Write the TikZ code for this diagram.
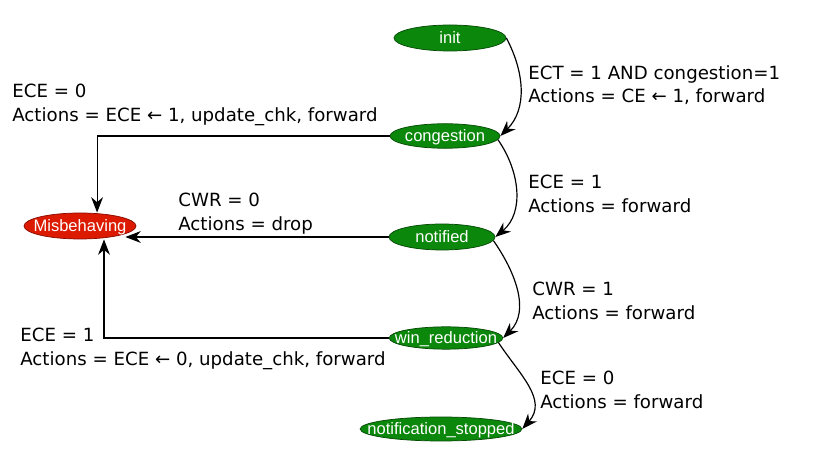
\documentclass[tikz,border=0pt]{standalone}
\usepackage{fontspec}
\setmainfont{DejaVu Sans}
\newfontfamily\statefont{Liberation Sans}
\usetikzlibrary{arrows.meta,positioning,calc,shapes.geometric}
\definecolor{StateGreen}{HTML}{0B870B}
\definecolor{StateGreenDark}{HTML}{064A06}
\definecolor{BadRed}{HTML}{DC1A00}
\definecolor{BadRedDark}{HTML}{8A0C00}
% state names take no room, so the ellipse keeps its given size
\newcommand{\stname}[1]{\makebox[0pt]{\raisebox{-0.36em}[0pt][0pt]{#1}}}
\tikzset{
    state/.style={
        ellipse, draw=StateGreenDark, fill=StateGreen, thin,
        text=white, font=\statefont\fontsize{9.1}{11}\selectfont,
        inner sep=0pt
    },
    badstate/.style={
        state, draw=BadRedDark, fill=BadRed
    },
    trans/.style={
        -{Stealth[length=8.5pt,width=6.5pt]}, line width=0.65pt, color=black
    },
    guard/.style={
        anchor=north west, align=left, inner sep=0pt,
        font=\fontsize{10}{12.8}\selectfont
    },
}
\begin{document}
\begin{tikzpicture}[x=0.55pt, y=-0.55pt]
    \useasboundingbox (0,0) rectangle (823,461);

    % States
    \node[state, minimum width=61.6pt, minimum height=14.3pt] (init) at (450,38) {\stname{init}};
    \node[state, minimum width=60.5pt, minimum height=13.5pt] (congestion) at (445,136) {\stname{congestion}};
    \node[state, minimum width=58.3pt, minimum height=14.3pt] (notified) at (442,237) {\stname{notified}};
    \node[state, minimum width=62.5pt, minimum height=12.3pt] (win) at (446,338) {\stname{win\_reduction}};
    \node[state, minimum width=89pt, minimum height=13.2pt] (stopped) at (441,429) {\stname{notification\_stopped}};
    \node[badstate, minimum width=61.6pt, minimum height=14.3pt] (misb) at (80,226) {\stname{Misbehaving}};

    % Normal path
    \draw[trans] (init.east) to[out=-62, in=45] (congestion.east);
    \draw[trans] (congestion.-4) to[out=-55, in=40] (notified.east);
    \draw[trans] (notified.-4) to[out=-55, in=45] (win.east);
    \draw[trans] (win.-5) .. controls (520,375) and (548,400) .. (stopped.east);

    % Into Misbehaving
    \draw[trans] (congestion.west) -| ([xshift=9.4pt]misb.north);
    \draw[trans] (notified.west) -- ($(notified.west -| misb.east)+(-11,0)$);
    \draw[trans] (win.west) -| ([xshift=13.2pt]misb.south);

    % Guards and actions
    \node[guard] (g1) at (528,65) {ECT = 1 AND congestion=1\\Actions = CE ← 1, forward};
    \node[guard] (g2) at (12,84) {ECE = 0\\Actions = ECE ← 1, update\_chk, forward};
    \node[guard] (g3) at (528,175) {ECE = 1\\Actions = forward};
    \node[guard] (g4) at (178,193) {CWR = 0\\Actions = drop};
    \node[guard] (g5) at (532,282) {CWR = 1\\Actions = forward};
    \node[guard] (g6) at (20,328) {ECE = 1\\Actions = ECE ← 0, update\_chk, forward};
    \node[guard] (g7) at (540,371) {ECE = 0\\Actions = forward};
\end{tikzpicture}
\end{document}
